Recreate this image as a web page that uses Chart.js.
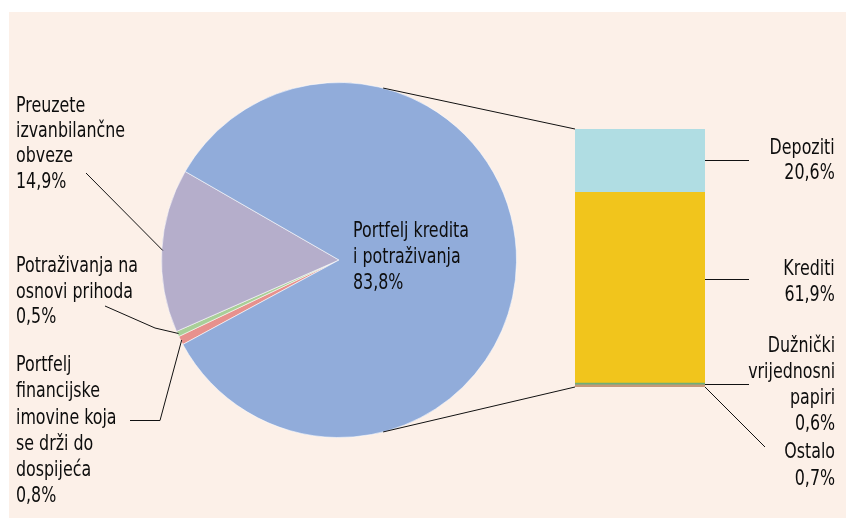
<!DOCTYPE html>
<html>
<head>
<meta charset="utf-8">
<script src="https://cdn.jsdelivr.net/npm/chart.js@4"></script>
<style>
  body { margin: 0; background: #fff; }
  #wrap { position: relative; width: 846px; height: 518px; overflow: hidden; }
  #panel { position: absolute; left: 9px; top: 12px; right: 0; bottom: 0; background: #fcf0e8; }
  canvas { position: absolute; left: 0; top: 0; }
  .lbl {
    position: absolute;
    font-family: "DejaVu Sans Condensed", "Liberation Sans Narrow", sans-serif;
    font-size: 20.5px;
    color: #0d0d0d;
    white-space: nowrap;
    transform: scaleX(0.86);
    transform-origin: left top;
  }
  .right { text-align: right; right: 11px; transform-origin: right top; }
</style>
</head>
<body>
<div id="wrap">
  <div id="panel"></div>
  <canvas id="pie" width="846" height="518"></canvas>
  <canvas id="bar" width="846" height="518"></canvas>
</div>
<script>
// pie: clockwise from the small slices
const pieNames = [
    ['Portfelj', 'financijske', 'imovine koja', 'se drži do', 'dospijeća'],
    ['Potraživanja na', 'osnovi prihoda'],
    ['Preuzete', 'izvanbilančne', 'obveze'],
    ['Portfelj kredita', 'i potraživanja']
];
const pieValues = [0.8, 0.5, 14.9, 83.8];
const pieColors = ['#e7918d', '#a9cf98', '#b5aecb', '#91acda'];

// bar: bottom to top
const barNames = [
    ['Ostalo'],
    ['Dužnički', 'vrijednosni', 'papiri'],
    ['Krediti'],
    ['Depoziti']
];
const barValues = [0.7, 0.6, 61.9, 20.6];
const barColors = ['#c4987a', '#6fae78', '#f1c51c', '#b0dde3'];

// label boxes (left/top/line-height), same order as the data
const pieBoxes = [
    { left: 16, top: 351, lh: 26.3 },
    { left: 16, top: 253, lh: 25.5 },
    { left: 16, top: 93, lh: 25.2 },
    { left: 353, top: 218, lh: 25.8 }
];
const barBoxes = [
    { top: 438, lh: 27 },
    { top: 332, lh: 26 },
    { top: 255, lh: 26 },
    { top: 135, lh: 25 }
];
// where leader lines start near the text
const pieLeaders = [[[130, 420.5], [160, 420.5]], [[105, 306], [155, 328]], [[86, 173]], null];
const barLeaders = [[765, 447], [749, 384.5], [749, 279.5], [749, 160.5]];

function fmt(v) {
    return v.toFixed(1).replace('.', ',') + '%';
}

function addLabel(lines, value, box, cls) {
    const div = document.createElement('div');
    div.className = 'lbl' + (cls ? ' ' + cls : '');
    div.style.top = box.top + 'px';
    if (box.left !== undefined) div.style.left = box.left + 'px';
    div.style.lineHeight = box.lh + 'px';
    div.innerHTML = lines.concat([fmt(value)]).join('<br>');
    document.getElementById('wrap').appendChild(div);
}

const pieChart = new Chart(document.getElementById('pie'), {
    type: 'pie',
    data: {
        labels: pieNames.map(n => n.join(' ')),
        datasets: [{
            data: pieValues,
            backgroundColor: pieColors,
            borderColor: 'rgba(255,255,255,0.55)',
            borderWidth: 1
        }]
    },
    options: {
        responsive: false,
        animation: false,
        devicePixelRatio: 1,
        rotation: 241.6,
        layout: { padding: { left: 161, right: 329, top: 82, bottom: 80 } },
        plugins: { legend: { display: false }, tooltip: { enabled: false } }
    }
});

const leaderLines = {
    id: 'leaderLines',
    afterDraw(chart) {
        const ctx = chart.ctx;
        const arcs = pieChart.getDatasetMeta(0).data;
        const cx = arcs[0].x, cy = arcs[0].y, r = arcs[0].outerRadius;
        ctx.save();
        ctx.strokeStyle = '#111';
        ctx.lineWidth = 1;

        // pie slice leaders
        pieLeaders.forEach((pts, i) => {
            if (!pts) return;
            const a = arcs[i];
            const mid = (a.startAngle + a.endAngle) / 2;
            ctx.beginPath();
            ctx.moveTo(pts[0][0], pts[0][1]);
            for (let k = 1; k < pts.length; k++) ctx.lineTo(pts[k][0], pts[k][1]);
            ctx.lineTo(cx + Math.cos(mid) * (r - 1), cy + Math.sin(mid) * (r - 1));
            ctx.stroke();
        });

        // bar segment leaders
        barLeaders.forEach((p, i) => {
            const b = chart.getDatasetMeta(i).data[0];
            const right = b.x + b.width / 2;
            const top = Math.min(b.y, b.base), bottom = Math.max(b.y, b.base);
            const y = Math.max(top, Math.min(bottom, p[1]));
            ctx.beginPath();
            ctx.moveTo(right, y);
            ctx.lineTo(p[0], p[1]);
            ctx.stroke();
        });

        // connectors pie -> bar
        const first = chart.getDatasetMeta(0).data[0];
        const last = chart.getDatasetMeta(barValues.length - 1).data[0];
        const left = first.x - first.width / 2;
        const ang = 75.6 * Math.PI / 180;
        ctx.beginPath();
        ctx.moveTo(cx + Math.cos(-ang) * r, cy + Math.sin(-ang) * r);
        ctx.lineTo(left, last.y);
        ctx.moveTo(cx + Math.cos(ang) * r, cy + Math.sin(ang) * r);
        ctx.lineTo(left, first.base);
        ctx.stroke();
        ctx.restore();
    }
};

const barChart = new Chart(document.getElementById('bar'), {
    type: 'bar',
    data: {
        labels: [''],
        datasets: barValues.map((v, i) => ({
            label: barNames[i].join(' '),
            data: [v],
            backgroundColor: barColors[i],
            borderWidth: 0,
            barPercentage: 1,
            categoryPercentage: 1
        }))
    },
    options: {
        responsive: false,
        animation: false,
        devicePixelRatio: 1,
        layout: { padding: { left: 575, right: 141, top: 129, bottom: 131 } },
        scales: {
            x: { display: false, stacked: true },
            y: { display: false, stacked: true, min: 0, max: barValues.reduce((s, v) => s + v, 0) }
        },
        plugins: { legend: { display: false }, tooltip: { enabled: false } }
    },
    plugins: [leaderLines]
});

pieNames.forEach((n, i) => addLabel(n, pieValues[i], pieBoxes[i]));
barNames.forEach((n, i) => addLabel(n, barValues[i], barBoxes[i], 'right'));
</script>
</body>
</html>
